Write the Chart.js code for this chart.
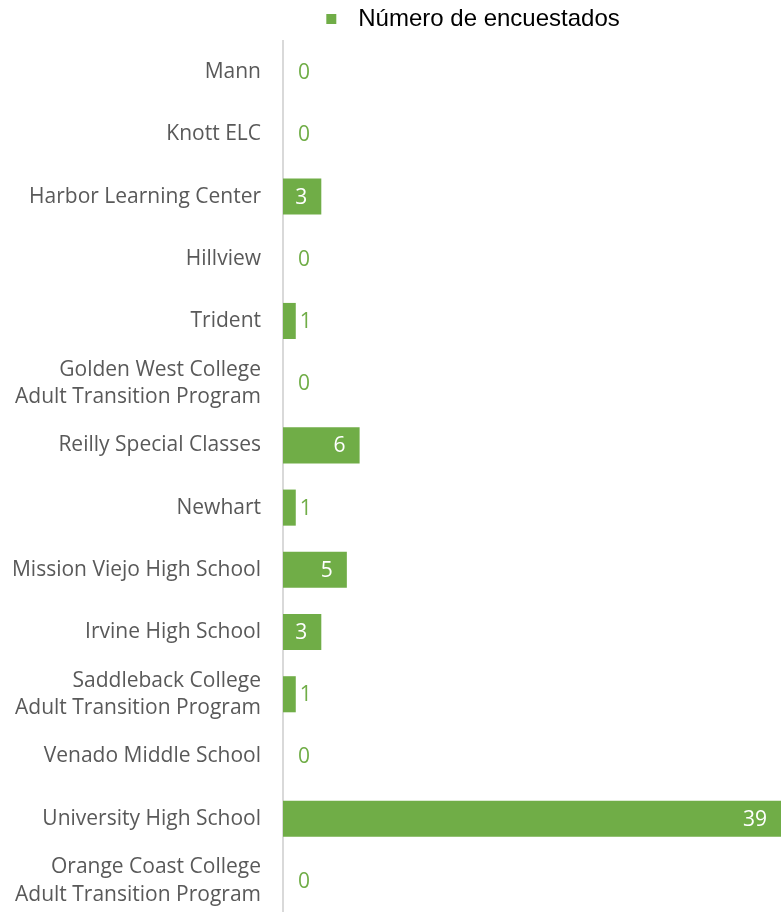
<!DOCTYPE html>
<html>
<head>
<meta charset="utf-8">
<script src="https://cdn.jsdelivr.net/npm/chart.js@4/dist/chart.umd.min.js"></script>
<style>
html,body{margin:0;padding:0;background:#fff;}
#wrap{position:relative;width:781px;height:912px;}
</style>
</head>
<body>
<div id="wrap"><canvas id="c"></canvas></div>
<script>
const categories = [
  "Mann",
  "Knott ELC",
  "Harbor Learning Center",
  "Hillview",
  "Trident",
  ["Golden West College", "Adult Transition Program"],
  "Reilly Special Classes",
  "Newhart",
  "Mission Viejo High School",
  "Irvine High School",
  ["Saddleback College", "Adult Transition Program"],
  "Venado Middle School",
  "University High School",
  ["Orange Coast College", "Adult Transition Program"]
];
const seriesName = "Número de encuestados";
const values = [0, 0, 3, 0, 1, 0, 6, 1, 5, 3, 1, 0, 39, 0];

const GREEN = "#70AD47";
const LABEL_FONT = "'Open Sans', 'Noto Sans', sans-serif";

// legend marker: small square at left of a wider transparent box
const marker = document.createElement('canvas');
marker.width = 21; marker.height = 10;
(function(){ const g = marker.getContext('2d'); g.fillStyle = GREEN; g.fillRect(1, 0, 10, 10); })();

const valueLabels = {
  id: 'valueLabels',
  afterDatasetsDraw(chart) {
    const ctx = chart.ctx;
    const meta = chart.getDatasetMeta(0);
    ctx.save();
    ctx.font = "21px " + LABEL_FONT;
    ctx.textBaseline = 'middle';
    meta.data.forEach((bar, i) => {
      const v = values[i];
      const txt = String(v);
      const w = ctx.measureText(txt).width;
      const len = bar.x - bar.base;
      if (len > w + 20) {
        ctx.fillStyle = '#FFFFFF';
        ctx.textAlign = 'right';
        ctx.fillText(txt, bar.x - 14, bar.y + 1);
      } else {
        ctx.fillStyle = GREEN;
        ctx.textAlign = 'left';
        ctx.fillText(txt, Math.max(bar.x + 4, bar.base + 15), bar.y + 1);
      }
    });
    ctx.restore();
  }
};

const shiftLegend = {
  id: 'shiftLegend',
  afterLayout(chart) {
    const l = chart.legend;
    if (l) { l.left += 82; l.right += 82; }
  }
};

new Chart(document.getElementById('c'), {
  type: 'bar',
  data: {
    labels: categories,
    datasets: [{
      label: seriesName,
      data: values,
      backgroundColor: GREEN,
      borderWidth: 0,
      barPercentage: 0.58,
      categoryPercentage: 1.0
    }]
  },
  options: {
    indexAxis: 'y',
    responsive: true,
    maintainAspectRatio: false,
    animation: false,
    layout: { padding: { top: 1, right: 0, bottom: 0, left: 0 } },
    plugins: {
      legend: {
        display: true,
        position: 'top',
        align: 'center',
        labels: {
          usePointStyle: true,
          pointStyle: marker,
          boxWidth: 21,
          boxHeight: 10,
          padding: 6,
          color: '#000000',
          font: { family: "'Liberation Sans', Arial, sans-serif", size: 24 }
        }
      },
      tooltip: { enabled: false }
    },
    scales: {
      x: {
        display: false,
        min: 0,
        max: 39
      },
      y: {
        position: 'left',
        grid: { display: true, drawOnChartArea: false, drawTicks: false },
        border: { display: true, color: '#D9D9D9', width: 2 },
        ticks: {
          color: '#595959',
          padding: 22,
          font: { family: LABEL_FONT, size: 21, lineHeight: 1.3 }
        },
        afterFit(scale) {
          scale.width = 283;
          scale.paddingTop = 0;
          scale.paddingBottom = 0;
        }
      }
    }
  },
  plugins: [valueLabels, shiftLegend]
});
</script>
</body>
</html>
